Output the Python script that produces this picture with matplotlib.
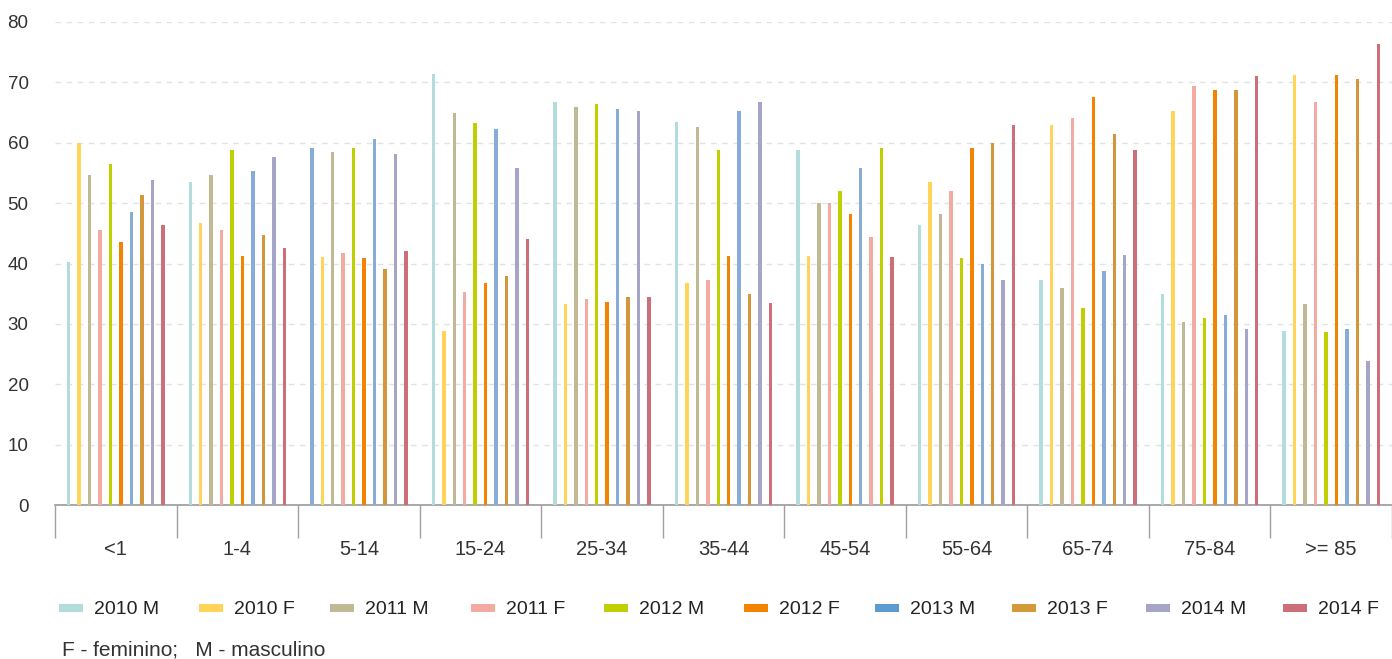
import numpy as np
import matplotlib
matplotlib.use("Agg")
import matplotlib.pyplot as plt
from matplotlib.patches import Rectangle

plt.rcParams['font.family'] = ['Liberation Sans', 'DejaVu Sans']

# --- DATA ---
age_groups = ["<1", "1-4", "5-14", "15-24", "25-34", "35-44", "45-54",
              "55-64", "65-74", "75-84", ">= 85"]
series_names = ["2010 M", "2010 F", "2011 M", "2011 F", "2012 M",
                "2012 F", "2013 M", "2013 F", "2014 M", "2014 F"]

v_2010_m = [40.2, 53.5, 59.1, 71.4, 66.7, 63.4, 58.8, 46.3, 37.2, 34.9, 28.8]
v_2010_f = [60.0, 46.7, 41.0, 28.8, 33.3, 36.7, 41.3, 53.5, 63.0, 65.2, 71.3]
v_2011_m = [54.6, 54.6, 58.4, 64.9, 66.0, 62.6, 50.1, 48.2, 36.0, 30.3, 33.3]
v_2011_f = [45.5, 45.5, 41.7, 35.3, 34.1, 37.2, 50.1, 52.0, 64.1, 69.4, 66.7]
v_2012_m = [56.5, 58.8, 59.1, 63.3, 66.4, 58.8, 52.0, 40.9, 32.6, 31.0, 28.7]
v_2012_f = [43.6, 41.3, 40.9, 36.8, 33.6, 41.3, 48.2, 59.2, 67.6, 68.7, 71.3]
v_2013_m = [48.6, 55.4, 60.7, 62.2, 65.6, 65.3, 55.8, 39.9, 38.7, 31.4, 29.2]
v_2013_f = [51.3, 44.7, 39.1, 37.9, 34.5, 34.9, 44.4, 60.0, 61.5, 68.7, 70.5]
v_2014_m = [53.9, 57.6, 58.1, 55.8, 65.3, 66.7, 59.1, 37.2, 41.4, 29.2, 23.8]
v_2014_f = [46.3, 42.5, 42.1, 44.0, 34.5, 33.4, 41.0, 63.0, 58.8, 71.0, 76.3]

all_series = [v_2010_m, v_2010_f, v_2011_m, v_2011_f, v_2012_m,
              v_2012_f, v_2013_m, v_2013_f, v_2014_m, v_2014_f]

bar_colors = ["#b3dcdd", "#ffd458", "#c0b994", "#f2aaa2", "#c0cf00",
              "#f38300", "#88acd8", "#d4963a", "#a6a5c8", "#cd6f79"]
legend_colors = ["#b3dcdd", "#ffd458", "#c0b994", "#f2aaa2", "#c0cf00",
                 "#f38300", "#5b9bd0", "#d49a3a", "#a6a5c8", "#cd6f79"]

# a few bars in the source are drawn in another series' colour
color_override = {(0, 2): 6, (7, 6): 3, (8, 6): 4}

# legend entry left edges (pixels)
legend_x = [59, 199, 330, 471, 604, 744, 875, 1012, 1146, 1283]

W, H = 1392, 659

# --- PLOT ---
fig = plt.figure(figsize=(W / 100, H / 100), dpi=100)
ax = fig.add_axes([55 / W, 1 - 505 / H, 1 - 55 / W, (505 - 22) / H])

x = np.arange(len(age_groups))
step = 0.086
width = 0.028
for i, vals in enumerate(all_series):
    cols = [bar_colors[color_override.get((i, j), i)] for j in range(len(vals))]
    ax.bar(x + (i - 4.5) * step, vals, width=width, color=cols, zorder=3)

ax.set_ylim(0, 80)
ax.set_xlim(-0.5, (W - 55) / 122.2 - 0.5)
ax.set_yticks(range(0, 81, 10))
ax.grid(axis="y", color="#e2e2e2", linestyle=(0, (4, 4)), lw=1, zorder=0)

for s in ["top", "right", "left"]:
    ax.spines[s].set_visible(False)
ax.spines["bottom"].set_color("#9a9a9a")
ax.spines["bottom"].set_linewidth(1.2)

ax.tick_params(axis="y", length=0, pad=19, labelsize=13.5, labelcolor="#333333")
ax.set_xticks(np.arange(-0.5, len(age_groups), 1.0))
ax.set_xticklabels([])
ax.tick_params(axis="x", which="major", length=24, width=1, color="#a0a0a0")
ax.set_xticks(x, minor=True)
ax.set_xticklabels(age_groups, minor=True)
ax.tick_params(axis="x", which="minor", length=0, pad=25, labelsize=14.5,
               labelcolor="#333333")

# legend drawn by hand to match the source spacing
for lx, name, c in zip(legend_x, series_names, legend_colors):
    fig.patches.append(Rectangle((lx / W, 1 - 612 / H), 24 / W, 8 / H,
                                 facecolor=c, edgecolor="none",
                                 transform=fig.transFigure, figure=fig))
    fig.text((lx + 35) / W, 1 - 610 / H, name, fontsize=14, color="#222222",
             va="center", ha="left")

fig.text(62 / W, 1 - 650 / H, "F - feminino;   M - masculino", fontsize=15,
         color="#333333", va="center", ha="left")

fig.savefig("out.png", dpi=100)
